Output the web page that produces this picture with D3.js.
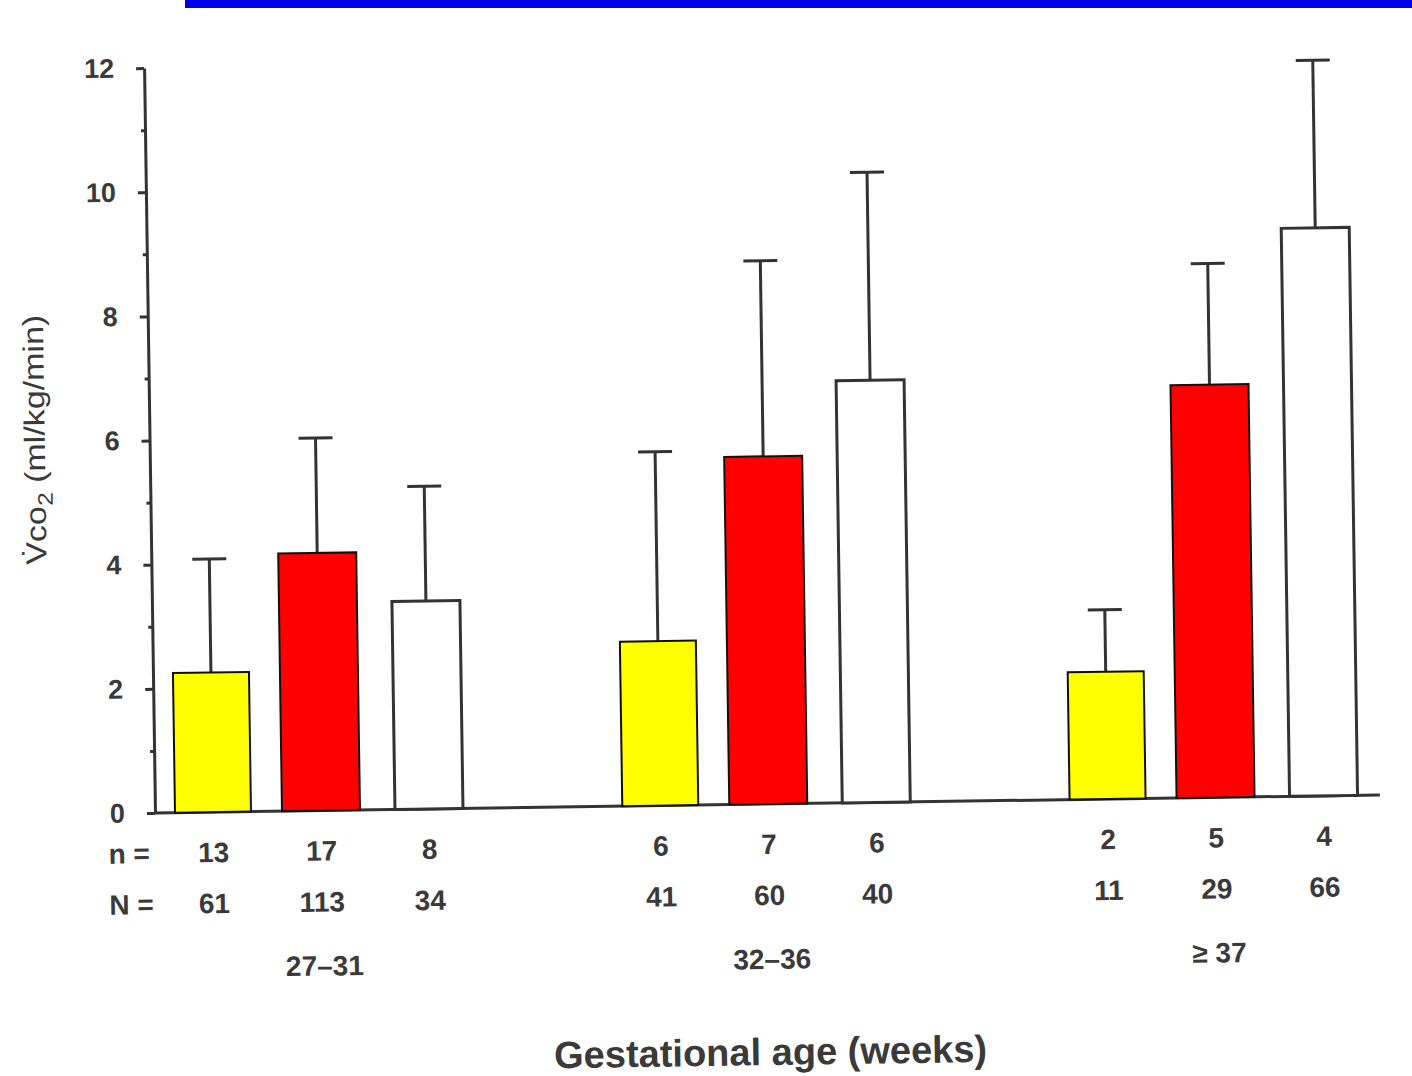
<!DOCTYPE html>
<html>
<head>
<meta charset="utf-8">
<script src="https://cdn.jsdelivr.net/npm/d3@7"></script>
<style>
  body { margin: 0; background: #fff; }
  text { font-family: "Liberation Sans", Arial, sans-serif; fill: #3a3a3a; }
</style>
</head>
<body>
<div id="graf"></div>
<script>
// Datos
const grupos = ["27–31", "32–36", "≥ 37"]
const series = ["amarillo", "rojo", "blanco"]
const colores = ["#ffff00", "#ff0000", "#ffffff"]
const medias = [[2.25, 4.15, 3.35], [2.65, 5.6, 6.8], [2.05, 6.65, 9.15]]
const desv = [[1.83, 1.85, 1.85], [3.05, 3.15, 3.35], [1.0, 1.95, 2.7]]
const nPeq = [[13, 17, 8], [6, 7, 6], [2, 5, 4]]
const nGrande = [[61, 113, 34], [41, 60, 40], [11, 29, 66]]
const yTicks = [0, 2, 4, 6, 8, 10, 12]
const yMenores = [1, 3, 5, 7, 9, 11]

const filas = []
grupos.forEach((g, i) => {
  series.forEach((s, j) => {
    filas.push({ grupo: g, serie: s, media: medias[i][j], sd: desv[i][j], n: nPeq[i][j], N: nGrande[i][j] })
  })
})

// Dimensiones
const anchoTotal = 1412
const altoTotal = 1076
const alto = 745
const ancho = 1225
const anchoBarra = { amarillo: 76, rojo: 78, blanco: 68 }
const tinta = "#333"

const svg = d3.select("#graf")
  .append("svg")
  .attr("width", anchoTotal)
  .attr("height", altoTotal)

// franja azul de la diapositiva
svg.append("rect")
  .attr("x", 185).attr("y", 0)
  .attr("width", anchoTotal - 185).attr("height", 8)
  .attr("fill", "#0000e6")

// el escaneo esta un poco girado
const g = svg.append("g")
  .attr("transform", `translate(155, 68) rotate(-0.84, 0, ${alto})`)

// Escaladores
const y = d3.scaleLinear().domain([0, 12]).range([alto, 0])
const x0 = d3.scaleBand().domain(grupos).range([-56, 1286])
const x1 = d3.scaleBand().domain(series).range([60, 384])
const color = d3.scaleOrdinal().domain(series).range(colores)
const centro = (d) => x0(d.grupo) + x1(d.serie) + x1.bandwidth() / 2

// Ejes
const yAxis = g.append("g")
  .call(d3.axisLeft(y).tickValues(yTicks).tickSize(8).tickSizeOuter(0).tickPadding(22))
yAxis.select(".domain").attr("stroke", tinta).attr("stroke-width", 3)
yAxis.selectAll(".tick line").attr("stroke", tinta).attr("stroke-width", 3)
yAxis.selectAll(".tick text")
  .attr("font-size", 27).attr("font-weight", "bold").attr("fill", "#3a3a3a")
  .attr("font-family", "Liberation Sans, Arial, sans-serif")

const yMin = g.append("g")
  .call(d3.axisLeft(y).tickValues(yMenores).tickSize(4).tickFormat(""))
yMin.select(".domain").remove()
yMin.selectAll(".tick line").attr("stroke", tinta).attr("stroke-width", 3)

g.append("line")
  .attr("x1", 0).attr("x2", ancho)
  .attr("y1", y(0)).attr("y2", y(0))
  .attr("stroke", tinta).attr("stroke-width", 3)

// Barras de error
const err = g.append("g").selectAll("g").data(filas).join("g")
err.append("line")
  .attr("x1", centro).attr("x2", centro)
  .attr("y1", (d) => y(d.media)).attr("y2", (d) => y(d.media + d.sd))
  .attr("stroke", tinta).attr("stroke-width", 3)
err.append("line")
  .attr("x1", (d) => centro(d) - 17).attr("x2", (d) => centro(d) + 17)
  .attr("y1", (d) => y(d.media + d.sd)).attr("y2", (d) => y(d.media + d.sd))
  .attr("stroke", tinta).attr("stroke-width", 3)

// Rectangulos
g.append("g").selectAll("rect").data(filas).join("rect")
  .attr("x", (d) => centro(d) - anchoBarra[d.serie] / 2)
  .attr("y", (d) => y(d.media))
  .attr("width", (d) => anchoBarra[d.serie])
  .attr("height", (d) => y(0) - y(d.media))
  .attr("fill", (d) => color(d.serie))
  .attr("stroke", (d) => d.serie == "blanco" ? tinta : "#111")
  .attr("stroke-width", (d) => d.serie == "blanco" ? 3 : 2)

// Etiquetas n y N
const etiq = g.append("g").attr("font-size", 28).attr("font-weight", "bold")
etiq.append("text").attr("x", -47).attr("y", y(0) + 50).text("n =")
etiq.append("text").attr("x", -47).attr("y", y(0) + 101).text("N =")
etiq.selectAll(".n").data(filas).join("text")
  .attr("class", "n")
  .attr("x", centro).attr("y", y(0) + 50)
  .attr("text-anchor", "middle")
  .text((d) => d.n)
etiq.selectAll(".N").data(filas).join("text")
  .attr("class", "N")
  .attr("x", centro).attr("y", y(0) + 101)
  .attr("text-anchor", "middle")
  .text((d) => d.N)
etiq.selectAll(".grupo").data(grupos).join("text")
  .attr("class", "grupo")
  .attr("x", (d) => x0(d) + x0.bandwidth() / 2)
  .attr("y", y(0) + 165)
  .attr("text-anchor", "middle")
  .text((d) => d)

// Titulos
g.append("text")
  .attr("x", 612).attr("y", y(0) + 261)
  .attr("text-anchor", "middle")
  .attr("font-size", 38).attr("font-weight", "bold")
  .text("Gestational age (weeks)")

const tituloY = g.append("text")
  .attr("transform", `translate(-115, ${y(6.04)}) rotate(-90)`)
  .attr("text-anchor", "middle")
  .attr("dy", "0.35em")
  .attr("font-size", 29)
  .attr("textLength", 250)
  .attr("lengthAdjust", "spacingAndGlyphs")
tituloY.append("tspan").text("V\u0307co")
tituloY.append("tspan").attr("font-size", 21).attr("dy", 7).text("2")
tituloY.append("tspan").attr("dy", -7).text(" (ml/kg/min)")
</script>
</body>
</html>
